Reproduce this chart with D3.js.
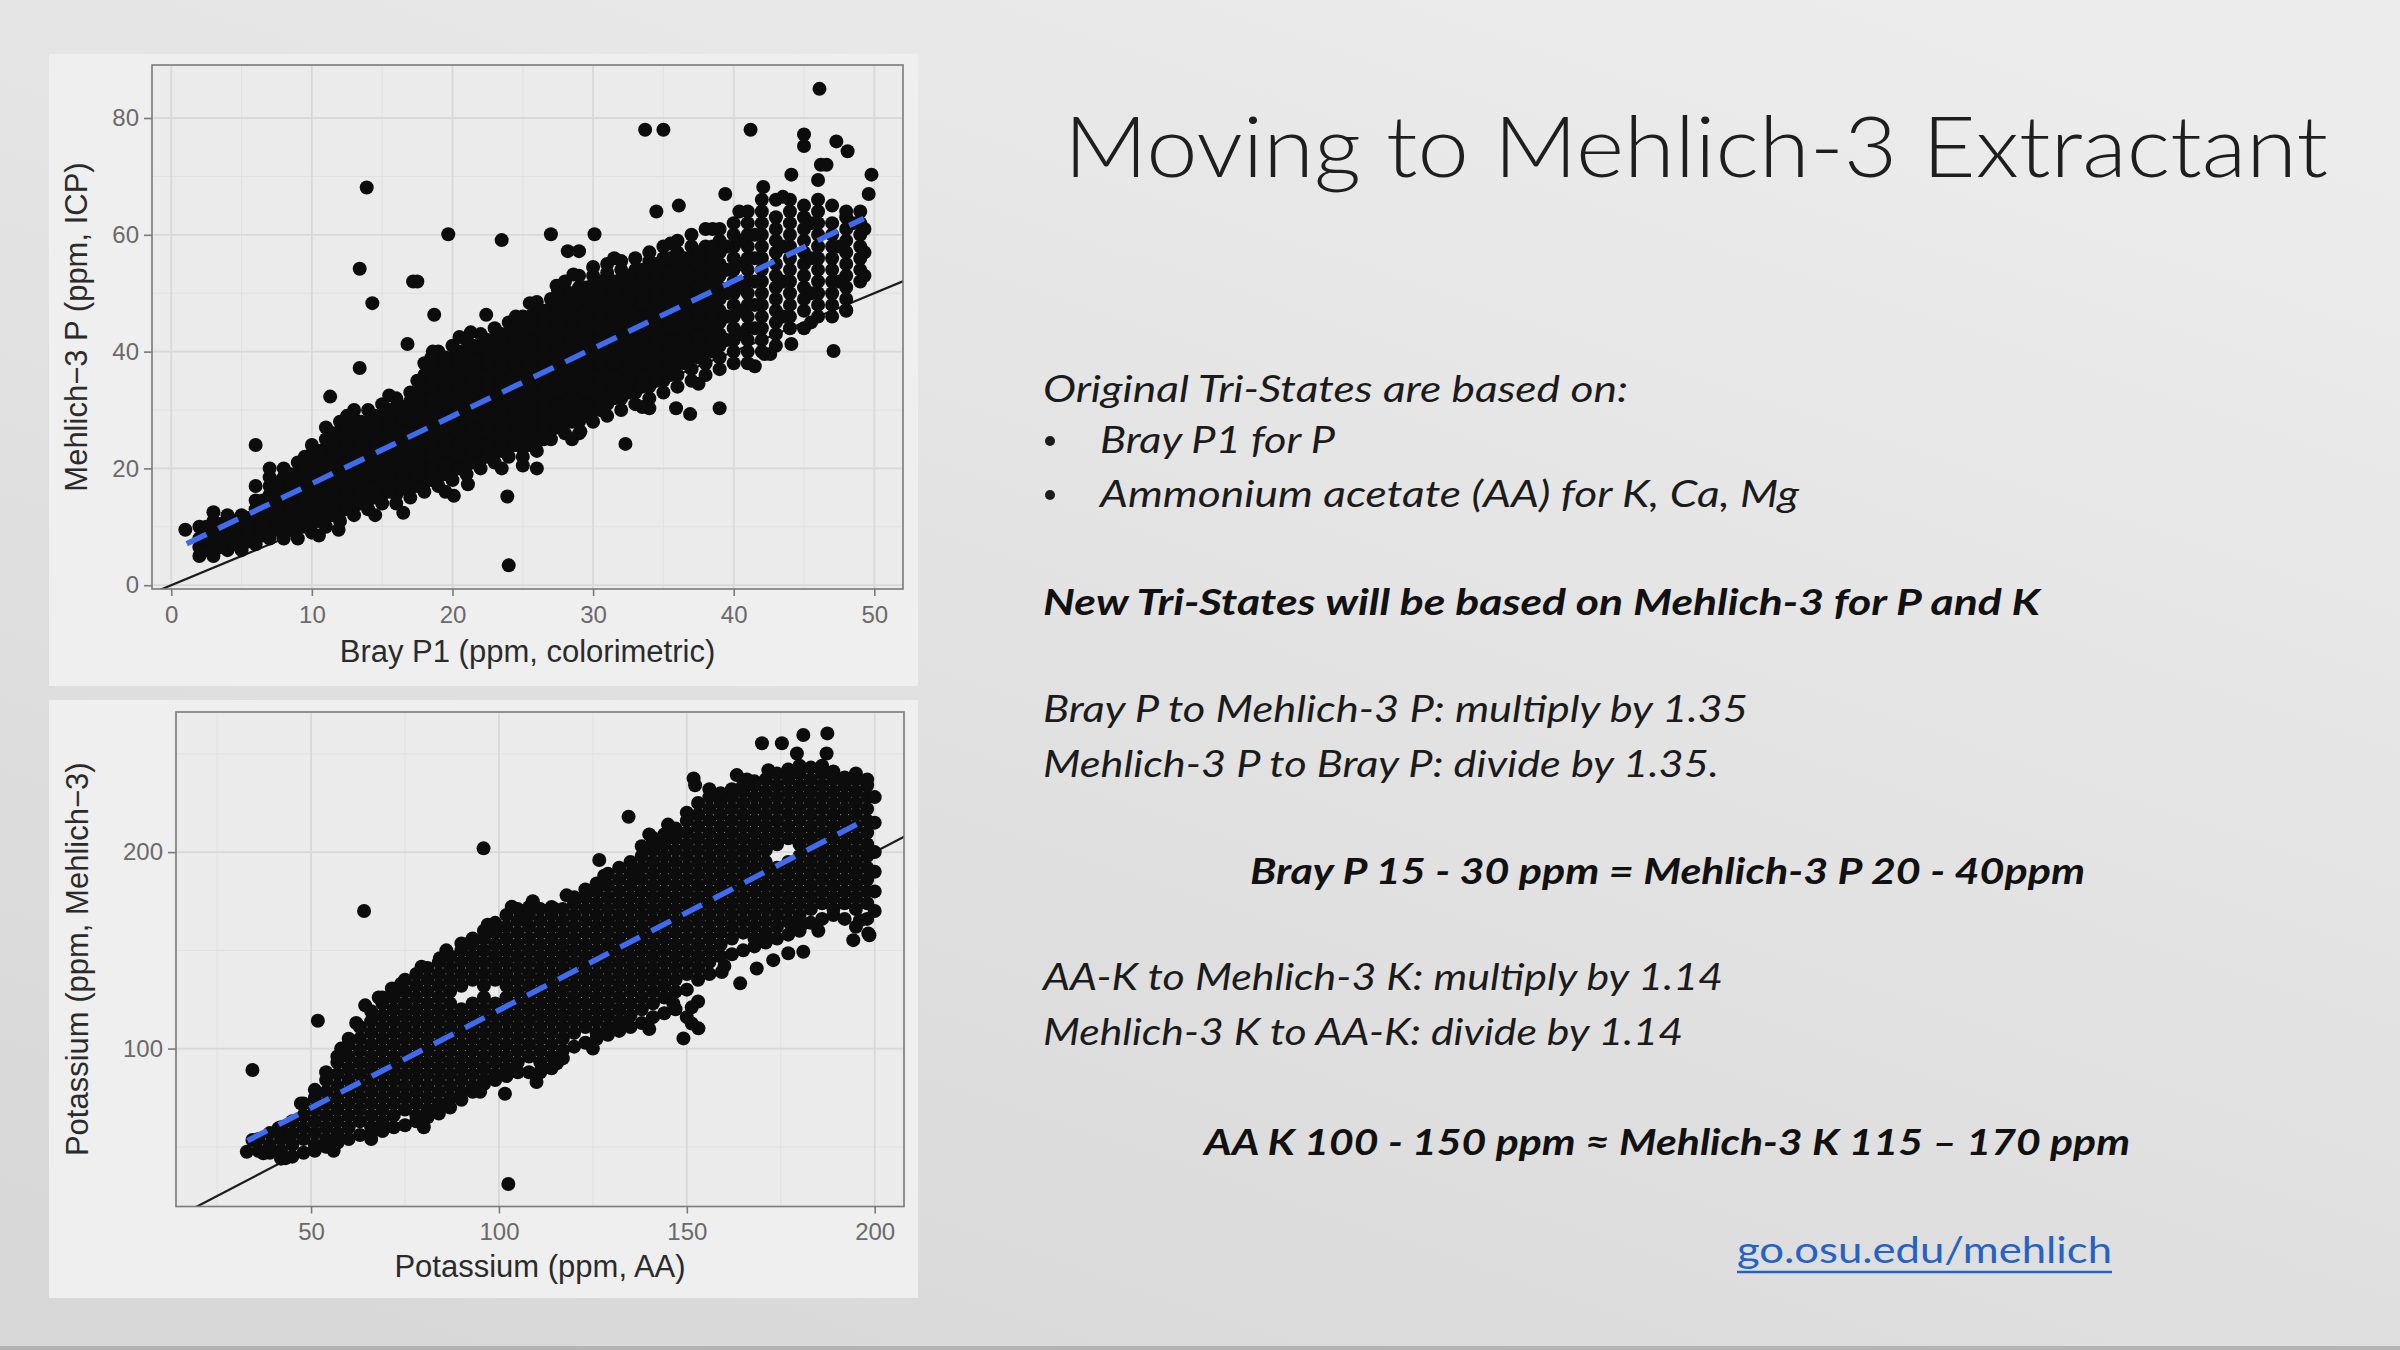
<!DOCTYPE html>
<html>
<head>
	<meta charset="utf-8">
	<title>Moving to Mehlich-3 Extractant</title>
	<script src="https://cdn.jsdelivr.net/npm/d3@7"></script>
	<style type="text/css">
	html, body{
		margin:0;
		padding:0;
		background:#dedede;
	}
	svg{ display:block; }
	.tick text{
		font-family: "Liberation Sans", Arial, sans-serif;
		font-size: 24px;
		fill: #6a6a6a;
	}
	.tick line{
		stroke: #7a7a7a;
		stroke-width: 1.6;
	}
	.axis-title{
		font-family: "Liberation Sans", Arial, sans-serif;
		font-size: 31px;
		fill: #2b2b2b;
	}
	.slide{
		font-family: Lato, "Open Sans", sans-serif;
		fill: #1b1b1b;
	}
	.title{ font-size: 84px; font-weight: 300; fill:#1e1e1e; }
	.it{ font-size: 36px; font-style: italic; }
	.bi{ font-size: 36px; font-style: italic; font-weight: 700; fill:#111; }
	.link{ font-size: 36px; fill:#2463c4; }
	</style>
</head>
<body>
<svg id="slide" width="2400" height="1350"></svg>
<script type="text/javascript">
// values (top panel: Bray P1 vs Mehlich-3 P)
// Bray P1 is mostly reported in whole ppm, so points stack at integer x
var brayCols = [
	[1,[9.5]],
	[2,[5,6.5,8,10]],
	[3,[5,6.5,8,9.5,11,12.5]],
	[4,[6,7.5,9,10.5,12]],
	[5,[6,7.5,9,10.5,12]],
	[6,[7,8.5,10,11.5,13,14.5,17]],
	[7,[8,9.5,11,12.5,14,15.5,17,18.5,20]],
	[8,[8,9.5,11,12.5,14,15.5,17,18.5,20]],
	[9,[8,10,11.5,13,14.5,16,17.5,19,21]],
	[10,[9,10.5,12,13.5,15,16.5,18,19.5,21,22.5,24]],
	[11,[10,11.5,13,14.5,16,17.5,19,20.5,22,23.5,25,27]],
	[12,[11,12.5,14,15.5,17,18.5,20,21.5,23,24.5,26,28]],
	[13,[12,13.5,15,16.5,18,19.5,21,22.5,24,25.5,27,28.5,30]],
	[14,[13,14.5,16,17.5,19,20.5,22,23.5,25,26.5,28,30]],
	[15,[14,15.5,17,18.5,20,21.5,23,24.5,26,27.5,29,31]],
	[16,[14,15.5,17,18.5,20,21.5,23,24.5,26,27.5,29,30.5,32]],
	[17,[15,16.5,18,19.5,21,22.5,24,25.5,27,28.5,30,31.5,33]],
	[18,[16,17.5,19,20.5,22,23.5,25,26.5,28,29.5,31,32.5,34,36,38]],
	[19,[17,18.5,20,21.5,23,24.5,26,27.5,29,30.5,32,33.5,35,36.5,38,40]],
	[20,[18,19.5,21,22.5,24,25.5,27,28.5,30,31.5,33,34.5,36,37.5,39,41]],
	[21,[19,20.5,22,23.5,25,26.5,28,29.5,31,32.5,34,35.5,37,38.5,40,42]],
	[22,[20,21.5,23,24.5,26,27.5,29,30.5,32,33.5,35,36.5,38,39.5,41,43]],
	[23,[21,22.5,24,25.5,27,28.5,30,31.5,33,34.5,36,37.5,39,40.5,42,44]],
	[24,[22,23.5,25,26.5,28,29.5,31,32.5,34,35.5,37,38.5,40,41.5,43,45]],
	[25,[20.5,22,23.5,25,26.5,28,29.5,31,32.5,34,35.5,37,38.5,40,41.5,43,44.5,46]],
	[26,[23,24.5,26,27.5,29,30.5,32,33.5,35,36.5,38,39.5,41,42.5,44,45.5,47,48.5]],
	[27,[25,26.5,28,29.5,31,32.5,34,35.5,37,38.5,40,41.5,43,44.5,46,47.5,49]],
	[28,[26,28,29.5,31,32.5,34,35.5,37,38.5,40,41.5,43,44.5,46,47.5,49,50.5,52]],
	[29,[26,28,30,31.5,33,34.5,36,37.5,39,40.5,42,43.5,45,46.5,48,49.5,51,53]],
	[30,[28,30,32,33.5,35,36.5,38,39.5,41,42.5,44,45.5,47,48.5,50,51.5,53,54.5]],
	[31,[29,31,33,35,36.5,38,40,41.5,43,44.5,46,47.5,49,50.5,52,53.5,55]],
	[32,[30,32,34,35.5,37,39,40.5,42,43.5,45,46.5,48,49.5,51,52.5,54,55.5]],
	[33,[31,33,35,37,38.5,40,42,43.5,45,46.5,48,49.5,51,52.5,54,56]],
	[34,[32,34,36,38,40,41.5,43,45,46.5,48,49.5,51,52.5,54,55.5,57]],
	[35,[33,35,37,39,41,42.5,44,46,47.5,49,51,52.5,54,56,58]],
	[36,[34,36,38,40,42,44,45.5,47,49,50.5,52,54,55.5,57,59]],
	[37,[35,37,39,41,43,45,47,49,50.5,52,54,56,58,60]],
	[38,[36,38,40,42,44,46,48,50,52,54,56,58,61]],
	[39,[37,39,41,43,45,47,49,51,53,55,57,59,61]],
	[40,[38,40,42,44,46,48,50,52,54,56,58,60,62]],
	[41,[38,40,42,44,46,48,50,52,54,56,58,60,62,64]],
	[42,[40,42,44,46,48,50,52,54,56,58,60,62,64,66]],
	[43,[41,43,45,47,49,51,53,55,57,59,61,63,66]],
	[44,[44,46,48,50,52,54,56,58,60,62,64,66]],
	[45,[44,47,49,51,53,55,57,59,61,63,65]],
	[46,[46,48,50,52,54,56,58,60,62,64,66]],
	[47,[46,48,50,52,54,56,58,60,62,65]],
	[48,[47,49,51,53,55,57,59,61,63,64]],
	[49,[52,54,56,58,60,62,64]]
];
// the few readings that fall between whole ppm, filling the core of the band
var brayHalfCols = [
	[2.5,[6,8,10]],
	[3.5,[6.5,8.5,10.5]],
	[4.5,[7,9,11]],
	[5.5,[7.5,9.5,11.5]],
	[6.5,[8.5,10.5,12.5,14.5]],
	[7.5,[9.5,11.5,13.5,15.5,17.5]],
	[8.5,[9.5,11.5,13.5,15.5,17.5,19]],
	[9.5,[10,12,14,16,18,20]],
	[10.5,[11,13,15,17,19,21,23]],
	[11.5,[12,14,16,18,20,22,24,26]],
	[12.5,[13,15,17,19,21,23,25,27]],
	[13.5,[14,16,18,20,22,24,26,28]],
	[14.5,[15,17,19,21,23,25,27,29]],
	[15.5,[16,18,20,22,24,26,28,30]],
	[16.5,[16.5,18.5,20.5,22.5,24.5,26.5,28.5,30.5]],
	[17.5,[17,19,21,23,25,27,29,31,33,35]],
	[18.5,[18,20,22,24,26,28,30,32,34,36,38]],
	[19.5,[19,21,23,25,27,29,31,33,35,37,39]],
	[20.5,[20,22,24,26,28,30,32,34,36,38,40]],
	[21.5,[21,23,25,27,29,31,33,35,37,39,41]],
	[22.5,[22,24,26,28,30,32,34,36,38,40,42]],
	[23.5,[23,25,27,29,31,33,35,37,39,41,43]],
	[24.5,[24,26,28,30,32,34,36,38,40,42,44]],
	[25.5,[24,26,28,30,32,34,36,38,40,42,44,46]],
	[26.5,[25,27,29,31,33,35,37,39,41,43,45,47]],
	[27.5,[27,29,31,33,35,37,39,41,43,45,47,49]],
	[28.5,[28,30,32,34,36,38,40,42,44,46,48,50]],
	[29.5,[29,31,33,35,37,39,41,43,45,47,49,51]],
	[30.5,[30,32,34,36,38,40,42,44,46,48,50,52]],
	[31.5,[32,34,36,38,40,42,44,46,48,50,52]],
	[32.5,[33,35,37,39,41,43,45,47,49,51,53]],
	[33.5,[34,36,38,40,42,44,46,48,50,52,54]],
	[34.5,[35,37,39,41,43,45,47,49,51,53,55]],
	[35.5,[36,38,40,42,44,46,48,50,52,54,56]],
	[36.5,[38,40,42,44,46,48,50,52,54,56]],
	[37.5,[39,41,43,45,47,49,51,53,55,57]],
	[38.5,[40,42,44,46,48,50,52,54,56,58]],
	[39.5,[42,46,50,54,58]],
	[40.5,[43,47,51,55,59]],
	[41.5,[44,48,52,56,60]],
	[43.5,[46,52,58]],
	[45.5,[50,56,62]],
	[47.5,[52,58]]
];
// stray points and ragged edges of the cloud
var brayOutliers = [
	[6,24],[11.3,32.3],[11.9,9.5],[13.4,37.2],[13.4,54.2],[13.9,68.1],[14.3,48.3],
	[16.5,12.4],[16.8,41.3],[17.2,52],[17.5,52],[18.7,46.3],[18.6,40],[19.7,60.1],
	[20.1,15.3],[21.1,17.3],[21.3,43.3],[22.4,46.3],[23.5,59.1],[23.9,15.2],[24,3.4],
	[25.5,48.3],[26,20],[27,60.1],[27.4,51.3],[28.2,57.2],[29,57.2],[28.6,53.2],
	[29.1,26.3],[30.1,60.1],[32.3,24.2],[33.7,78],[35,78],[34.5,64],[36.1,65],
	[34,30.3],[35.9,30.3],[36.9,29.3],[39,30.3],[39.4,67],[40.4,64],[41.2,78],
	[42.1,68.2],[44.1,70.3],[45,77.2],[45,75.2],[46.1,85],[46.2,72],[46.6,72],
	[46,69.4],[47.3,76],[48.1,74.3],[49.8,70.3],[49.6,67],[47.1,40.1],[44.1,41.3],
	[42.2,39.6],[42.6,39.6],[48,47.1],[48.5,62],[49.3,61],[49.3,57],[49.3,53],
	[9.5,22],[12.5,29],[15.5,32.5],[18.5,39],[20.5,42.5],[24.5,46],[27.5,50.5],
	[31.5,56],[35.5,58.5],[38.5,61],[43.5,66.5],[10.5,8.5],[14.5,12],[19.5,16],
	[23.5,20],[28.5,25],[33.5,30.5],[37.5,34.5],[41.5,37.5],[45.5,45]
];
var brayFit = [[1.1,7.1],[49.25,62.8]];
var brayXTicks = [0,10,20,30,40,50], brayXMinor = [5,15,25,35,45];
var brayYTicks = [0,20,40,60,80], brayYMinor = [10,30,50,70];

// bottom panel: AA potassium vs Mehlich-3 potassium
var kCols = [
	[36,[48,54]],
	[39,[47,51,57]],
	[42,[44,48,54,60]],
	[45,[45,51,57,63]],
	[48,[47,54,60,66,72]],
	[51,[48,51,57,63,69,75,79]],
	[54,[50,54,60,66,72,78,84,88]],
	[57,[52,57,63,69,75,81,87,93,96]],
	[60,[54,60,66,72,78,84,90,96,102,105]],
	[63,[56,63,69,75,81,87,93,99,105,111]],
	[66,[57,60,66,72,78,84,90,96,102,108,114,119]],
	[69,[58,63,69,75,81,87,93,99,105,111,117,123,126]],
	[72,[60,66,72,78,84,90,96,102,108,114,120,126,130]],
	[75,[61,69,75,81,87,93,99,105,111,117,123,129,135]],
	[78,[63,66,72,78,84,90,96,102,108,114,120,126,132,138]],
	[81,[65,69,75,81,87,93,99,105,111,117,123,129,135,141]],
	[84,[67,72,78,84,90,96,102,108,114,120,126,132,138,144]],
	[87,[70,75,81,87,93,99,105,111,117,123,129,135,141,147]],
	[90,[74,78,84,90,96,102,108,114,120,132,138,144,150]],
	[93,[78,81,87,93,99,105,111,117,123,135,141,147,153,156]],
	[96,[82,84,90,96,102,108,114,120,126,132,138,144,150,156,160]],
	[99,[84,87,93,99,105,111,117,123,135,141,147,153,159,164]],
	[102,[86,90,96,102,108,114,120,126,132,138,144,150,156,162,168]],
	[105,[88,93,99,105,111,117,123,129,135,141,147,153,159,165,171]],
	[108,[88,96,102,108,114,120,126,132,138,144,150,156,162,168,172]],
	[111,[88,93,99,105,111,117,123,129,135,141,147,153,159,165,171]],
	[114,[90,96,102,108,114,120,126,132,138,144,150,156,162,168,172]],
	[117,[95,99,105,111,117,123,129,135,141,147,153,159,165,171]],
	[120,[101,108,114,120,126,132,138,144,150,156,162,168,174,177]],
	[123,[103,111,117,123,129,135,141,147,153,159,165,171,177,181]],
	[126,[105,108,114,120,126,132,138,144,150,156,162,168,174,180,184]],
	[129,[107,111,117,123,129,135,141,147,153,159,165,171,177,183,189]],
	[132,[109,114,120,126,132,138,144,150,156,162,168,174,180,186,192]],
	[135,[111,117,123,129,135,141,147,153,159,165,171,177,183,189,195]],
	[138,[113,120,126,132,138,144,150,156,162,168,174,180,186,192,198,203]],
	[141,[116,123,129,135,141,147,153,159,165,171,177,183,189,195,201,206]],
	[144,[118,126,132,138,144,150,156,162,168,174,180,186,192,198,204,209]],
	[147,[120,129,135,141,147,153,159,165,171,177,183,189,195,201,207,212]],
	[150,[116,130,138,144,150,156,162,168,174,180,186,192,198,204,210,216,220]],
	[153,[124,135,141,147,153,159,165,171,177,183,189,195,201,207,213,219,225]],
	[156,[138,144,150,156,162,168,174,180,186,192,198,204,210,216,222,228]],
	[159,[147,153,159,165,171,177,183,189,195,201,207,213,219,225,230]],
	[162,[148,156,162,168,174,180,186,192,198,204,210,216,222,228,232]],
	[165,[150,159,165,171,177,183,189,195,201,207,213,219,225,231,234]],
	[168,[152,156,162,168,174,180,186,192,198,204,210,216,222,228,234,236]],
	[171,[154,159,165,171,177,183,189,195,201,207,213,219,225,231,237]],
	[174,[156,162,168,174,180,186,192,204,210,216,222,228,234,240]],
	[177,[158,165,171,177,183,189,195,207,213,219,225,231,237,242]],
	[180,[160,168,174,180,186,192,198,204,210,216,222,228,234,240,244]],
	[183,[164,171,177,183,189,195,201,207,213,219,225,231,237,243]],
	[186,[166,174,180,186,192,198,204,210,216,222,228,234,240,244]],
	[189,[168,171,177,183,189,195,201,207,213,219,225,231,237,241]],
	[192,[166,174,180,186,192,198,204,210,216,222,228,234,238]],
	[195,[162,171,177,183,189,195,201,207,213,219,225,231,237,240]],
	[198,[166,174,180,186,192,198,204,210,216,222,228,234,237]],
	[200,[170,180,190,200,215,228]]
];
var kOutliers = [
	[34.4,89.1],[32.9,47.5],[37.3,46.7],[34.4,53.5],[41.3,59.4],[44.4,55.2],[43.1,44.2],
	[47.3,72.1],[51.8,114.2],[64.1,170],[95.9,201.9],[102.5,31.1],[64.4,122],[71.5,130.6],
	[79.4,141.7],[84.3,146],[90,153.5],[91.9,153.5],[103.4,172.2],[107,166],[101.6,77],
	[114.5,171.4],[115.4,92.5],[126.7,196],[134.5,218],[136.2,189.2],[141.1,207],[134,113.7],
	[146.4,123],[149.1,105.2],[153.1,110.3],[151.3,121],[151.3,112.8],[151.8,237.5],
	[152.2,234],[163.3,239.2],[170,255.4],[175.3,255.4],[181,259.6],[187.4,260.4],
	[179.3,250.2],[171.7,241.7],[187.2,250.2],[159.3,139],[164.2,133.2],[168.6,140.8],
	[173,145],[177,148.5],[181,149.3],[194.3,155.2],[198.3,158.6],[196.1,165.3],
	[177.5,163.7],[181,163.7],[198.6,157.7],
	[58,100],[62,113],[68,126],[74,133],[86,150],[97,163],[109,175],[118,178],
	[128,188],[140,209],[145,214],[156,232],[166,237],[56,48],[66,54],[80,60],
	[95,78],[110,83],[125,100],[140,110],[160,142],[185,160]
];
var kFit = [[33.1,53.1],[195.2,214.1]];
var kXTicks = [50,100,150,200], kXMinor = [25,75,125,175];
var kYTicks = [100,200], kYMinor = [50,150,250];

// slide text
var slideText = [
	{t:"Moving to Mehlich-3 Extractant", x:1064, y:177, w:1264, cls:"title"},
	{t:"Original Tri-States are based on:", x:1043, y:402, w:585, cls:"it"},
	{t:"Bray P1 for P", x:1100, y:453, w:235, cls:"it", bullet:true},
	{t:"Ammonium acetate (AA) for K, Ca, Mg", x:1100, y:507, w:699, cls:"it", bullet:true},
	{t:"New Tri-States will be based on Mehlich-3 for P and K", x:1043, y:615, w:997, cls:"bi"},
	{t:"Bray P to Mehlich-3 P: multiply by 1.35", x:1043, y:722, w:705, cls:"it"},
	{t:"Mehlich-3 P to Bray P: divide by 1.35.", x:1043, y:777, w:676, cls:"it"},
	{t:"Bray P 15 - 30 ppm = Mehlich-3 P 20 - 40ppm", x:1250, y:884, w:835, cls:"bi"},
	{t:"AA-K to Mehlich-3 K: multiply by 1.14", x:1043, y:990, w:680, cls:"it"},
	{t:"Mehlich-3 K to AA-K: divide by 1.14", x:1043, y:1045, w:640, cls:"it"},
	{t:"AA K 100 - 150 ppm \u2248 Mehlich-3 K 115 \u2013 170 ppm", x:1204, y:1155, w:926, cls:"bi"},
	{t:"go.osu.edu/mehlich", x:1737, y:1263, w:375, cls:"link"}
];

var svg = d3.select("#slide");

/* slide background */
var grad = svg.append("defs").append("linearGradient")
	.attr("id","bg").attr("x1","0.8").attr("y1","0").attr("x2","0.2").attr("y2","1");
grad.append("stop").attr("offset","0").attr("stop-color","#ececec");
grad.append("stop").attr("offset","1").attr("stop-color","#d8d8d8");
svg.append("rect").attr("width",2400).attr("height",1350).attr("fill","url(#bg)");
svg.append("rect").attr("y",1346).attr("width",2400).attr("height",4).attr("fill","#b4b4b4");

function flatten(cols){
	var pts = [];
	cols.forEach(function(c){
		c[1].forEach(function(v){ pts.push([c[0], v]); });
	});
	return pts;
}

function drawPanel(p){
	var g = svg.append("g");

	// card the ggplot figure sits on
	g.append("rect")
		.attr("x",p.card[0]).attr("y",p.card[1])
		.attr("width",p.card[2]).attr("height",p.card[3])
		.attr("fill","#efefef");

	var x = d3.scaleLinear().domain(p.xDom).range([p.left, p.right]);
	var y = d3.scaleLinear().domain(p.yDom).range([p.bottom, p.top]);

	g.append("rect")
		.attr("x",p.left).attr("y",p.top)
		.attr("width",p.right-p.left).attr("height",p.bottom-p.top)
		.attr("fill","#ebebeb");

	g.append("clipPath").attr("id",p.id)
		.append("rect")
		.attr("x",p.left).attr("y",p.top)
		.attr("width",p.right-p.left).attr("height",p.bottom-p.top);

	var grid = g.append("g");
	grid.selectAll(".vmin").data(p.xMinor).enter().append("line")
		.attr("x1",x).attr("x2",x).attr("y1",p.top).attr("y2",p.bottom)
		.attr("stroke","#e0e0e0").attr("stroke-width",1);
	grid.selectAll(".hmin").data(p.yMinor).enter().append("line")
		.attr("y1",y).attr("y2",y).attr("x1",p.left).attr("x2",p.right)
		.attr("stroke","#e0e0e0").attr("stroke-width",1);
	grid.selectAll(".vmaj").data(p.xTicks).enter().append("line")
		.attr("x1",x).attr("x2",x).attr("y1",p.top).attr("y2",p.bottom)
		.attr("stroke","#d8d8d8").attr("stroke-width",1.8);
	grid.selectAll(".hmaj").data(p.yTicks).enter().append("line")
		.attr("y1",y).attr("y2",y).attr("x1",p.left).attr("x2",p.right)
		.attr("stroke","#d8d8d8").attr("stroke-width",1.8);

	var plot = g.append("g").attr("clip-path","url(#"+p.id+")");

	// 1:1 line, under the points
	var lo = Math.min(p.xDom[0], p.yDom[0]), hi = Math.max(p.xDom[1], p.yDom[1]);
	plot.append("line")
		.attr("x1",x(lo)).attr("y1",y(lo)).attr("x2",x(hi)).attr("y2",y(hi))
		.attr("stroke","#1c1c1c").attr("stroke-width",2.2);

	plot.selectAll("circle").data(p.points).enter().append("circle")
		.attr("cx",function(d){ return x(d[0]); })
		.attr("cy",function(d){ return y(d[1]); })
		.attr("r",p.r)
		.attr("fill","#0c0c0c");

	// fitted regression, dashed blue
	plot.append("path")
		.datum(p.fit)
		.attr("d", d3.line().x(function(d){ return x(d[0]); }).y(function(d){ return y(d[1]); }))
		.attr("fill","none")
		.attr("stroke","#3d6cf0")
		.attr("stroke-width",5.5)
		.attr("stroke-dasharray","22,13");

	g.append("rect")
		.attr("x",p.left).attr("y",p.top)
		.attr("width",p.right-p.left).attr("height",p.bottom-p.top)
		.attr("fill","none").attr("stroke","#7a7a7a").attr("stroke-width",1.6);

	g.append("g")
		.attr("transform","translate(0,"+p.bottom+")")
		.call(d3.axisBottom(x).tickValues(p.xTicks).tickSize(7).tickPadding(p.xPad).tickFormat(d3.format("d")))
		.call(function(a){ a.select(".domain").remove(); });

	g.append("g")
		.attr("transform","translate("+p.left+",0)")
		.call(d3.axisLeft(y).tickValues(p.yTicks).tickSize(8).tickPadding(5).tickFormat(d3.format("d")))
		.call(function(a){ a.select(".domain").remove(); });

	g.append("text").attr("class","axis-title")
		.attr("x",(p.left+p.right)/2).attr("y",p.xTitleY)
		.attr("text-anchor","middle")
		.text(p.xTitle);

	g.append("text").attr("class","axis-title")
		.attr("transform","translate("+p.yTitleX+","+((p.top+p.bottom)/2)+") rotate(-90)")
		.attr("text-anchor","middle")
		.text(p.yTitle);
}

drawPanel({
	id:"clipP", card:[49,54,869,632],
	left:152, right:903, top:65, bottom:589,
	xDom:[-1.37,52.04], yDom:[-0.65,89.08],
	xTicks:brayXTicks, xMinor:brayXMinor, yTicks:brayYTicks, yMinor:brayYMinor,
	points:flatten(brayCols).concat(flatten(brayHalfCols), brayOutliers), r:7,
	fit:brayFit, xPad:10,
	xTitle:"Bray P1 (ppm, colorimetric)", xTitleY:662,
	yTitle:"Mehlich\u22123 P (ppm, ICP)", yTitleX:87
});

drawPanel({
	id:"clipK", card:[49,700,869,598],
	left:176, right:904, top:712, bottom:1206.5,
	xDom:[14.05,207.8], yDom:[19.64,271.3],
	xTicks:kXTicks, xMinor:kXMinor, yTicks:kYTicks, yMinor:kYMinor,
	points:flatten(kCols).concat(kOutliers), r:7,
	fit:kFit, xPad:9,
	xTitle:"Potassium (ppm, AA)", xTitleY:1277,
	yTitle:"Potassium (ppm, Mehlich\u22123)", yTitleX:88
});

/* right hand text block */
var txt = svg.append("g").attr("class","slide");
slideText.forEach(function(d){
	txt.append("text")
		.attr("class",d.cls)
		.attr("x",d.x).attr("y",d.y)
		.attr("textLength",d.w)
		.attr("lengthAdjust","spacingAndGlyphs")
		.text(d.t);
	if(d.bullet){
		txt.append("circle").attr("cx",1050).attr("cy",d.y-12).attr("r",5).attr("fill","#1b1b1b");
	}
	if(d.cls=="link"){
		txt.append("line")
			.attr("x1",d.x).attr("x2",d.x+d.w)
			.attr("y1",d.y+9).attr("y2",d.y+9)
			.attr("stroke","#2463c4").attr("stroke-width",2.6);
	}
});
</script>
</body>
</html>
